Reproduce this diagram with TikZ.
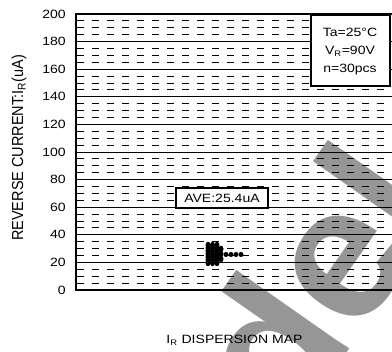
\documentclass[tikz,border=0pt]{standalone}
\usepackage{fontspec}
\setmainfont{Liberation Sans}
\usepackage{graphicx}
\usetikzlibrary{shapes.geometric}
\newcommand\hs[1]{\scalebox{1.17}[1]{#1}}
\newcommand\vs[1]{\scalebox{1}[1.1]{#1}}
\definecolor{wmgray}{RGB}{150,150,150}
\begin{document}
\begin{tikzpicture}[x=1pt,y=-1pt,
  frame/.style={line width=2pt},
  minor/.style={line width=0.8pt, dash pattern=on 7pt off 8pt},
  major/.style={line width=0.8pt},
  tick/.style={anchor=east, font=\fontsize{12}{14}\selectfont, inner sep=0pt},
  box/.style={draw, fill=white, line width=1.2pt, inner sep=0pt},
  lbl/.style={font=\fontsize{12}{14}\selectfont, inner sep=0pt},
  vlbl/.style={font=\fontsize{14.5}{17}\selectfont, inner sep=0pt},
  dot/.style={fill=black, ellipse, inner sep=0pt, minimum width=5pt, minimum height=6.5pt},
  sdot/.style={fill=black, circle, inner sep=0pt, minimum size=5pt},
  wm/.style={text=wmgray, font=\fontsize{190}{190}\selectfont\bfseries, inner sep=0pt}
]
\clip (0,0) rectangle (392,352);
\useasboundingbox (0,0) rectangle (392,352);
% watermark
\node[wm, rotate=55] (wm) at (314,282) {del};
% grid
\foreach \v in {0,20,...,180}{
  \foreach \d in {5,10,15}{
    \draw[minor] (77,{290-1.38*(\v+\d)}) -- (400,{290-1.38*(\v+\d)});
  }
}
\foreach \v in {20,40,...,180}{
  \draw[major] (77,{290-1.38*\v}) -- (400,{290-1.38*\v});
}
\draw[frame] (76,14) rectangle (400,290);
% ticks
\foreach \v in {0,20,...,200}{
  \node[tick] (t\v) at (66,{290-1.38*\v}) {\hs{\v}};
}
% legend
\node[box, minimum width=79pt, minimum height=71pt] (leg) at (350.5,50.5) {};
\node[lbl] (l1) at (350,32) {\hs{Ta=25\textdegree C}};
\node[lbl] (l2) at (350,51) {\hs{V\textsubscript{R}=90V}};
\node[lbl] (l3) at (350,70) {\hs{n=30pcs}};
% average box
\node[box, minimum width=92pt, minimum height=20pt] (ave) at (222,198) {};
\node[lbl] (avet) at (222,198.5) {\hs{AVE:25.4uA}};
% data points
\foreach \y [count=\i] in {245,248,251,254,257,260,263}{
  \node[dot] (a\i) at (208,\y) {};
  \node[dot] (b\i) at (212.5,\y) {};
  \node[dot] (c\i) at (217,\y) {};
}
\foreach \y [count=\i] in {249,254,259}{
  \node[dot] (d\i) at (221,\y) {};
}
\foreach \x [count=\i] in {226,231,236,241}{
  \node[sdot] (e\i) at (\x,254.5) {};
}
% axis titles
\node[lbl] (title) at (234.5,340) {\hs{I\textsubscript{R} DISPERSION MAP}};
\node[vlbl, rotate=90] (ylab) at (19,148) {\vs{REVERSE CURRENT:I\textsubscript{R}(uA)}};
\end{tikzpicture}
\end{document}
